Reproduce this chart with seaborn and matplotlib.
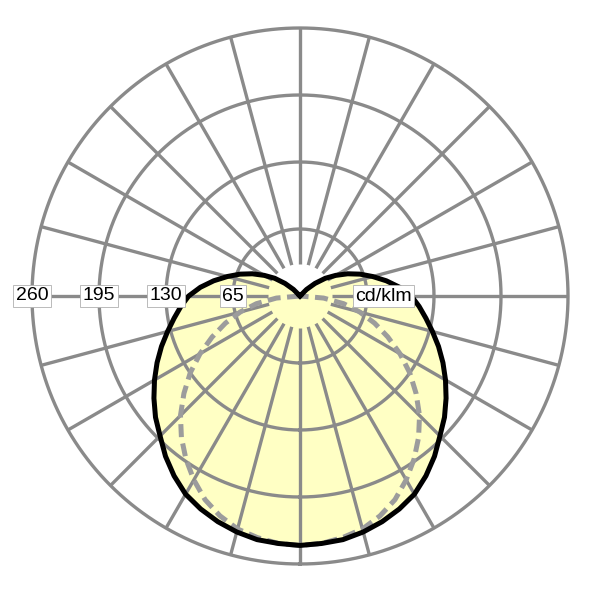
import numpy as np
import matplotlib
matplotlib.use("Agg")
import matplotlib.pyplot as plt
import seaborn as sns

# --- DATA (cd/klm) ---
# angle from nadir (deg), 0..180 in 5 deg steps, symmetric
angles_c0 = [0, 5, 10, 15, 20, 25, 30, 35, 40, 45, 50, 55, 60, 65, 70, 75, 80, 85, 90,
             95, 100, 105, 110, 115, 120, 125, 130, 135, 140, 145, 150, 155, 160, 165,
             170, 175, 180]
intensity_c0 = [242, 241, 240, 237, 233, 228, 222, 213, 203, 192, 183, 173, 163, 153,
                143, 133, 124, 116, 108, 97, 85, 73, 62, 51, 40, 30, 19, 9, 0, 0, 0,
                0, 0, 0, 0, 0, 0]

angles_c90 = [0, 5, 10, 15, 20, 25, 30, 35, 40, 45, 50, 55, 60, 65, 70, 75, 80, 85, 90]
intensity_c90 = [242, 241, 238, 234, 227, 218, 206, 193, 179, 164, 147, 130, 112, 94,
                 77, 60, 43, 23, 0]

ring_values = [65, 130, 195, 260]
ring_labels = ["65", "130", "195", "260"]
unit_label = "cd/klm"

GRID = "#8a8a8a"
FILL = "#ffffc4"
RMAX = 266  # a bit of room so the outer ring isn't clipped

# mirror the half-planes to get the full curves
th0 = np.deg2rad(np.concatenate([-np.array(angles_c0[::-1]), np.array(angles_c0[1:])]))
r0 = np.concatenate([intensity_c0[::-1], intensity_c0[1:]])
th90 = np.deg2rad(np.concatenate([-np.array(angles_c90[::-1]), np.array(angles_c90[1:])]))
r90 = np.concatenate([intensity_c90[::-1], intensity_c90[1:]])

fig = plt.figure(figsize=(5.9, 5.9), dpi=100)
rad_px = 268 * RMAX / 260
ax = fig.add_axes([(300 - rad_px) / 590, (294 - rad_px) / 590,
                   2 * rad_px / 590, 2 * rad_px / 590], projection="polar")
ax.set_theta_zero_location("S")
ax.set_ylim(0, RMAX)
ax.grid(False)
ax.set_xticks([])
ax.set_yticks([])
ax.spines["polar"].set_visible(False)

# light fill under the C0-C180 curve
ax.fill(th0, r0, color=FILL, zorder=1, lw=0)

# grid: rings and spokes
circ = np.linspace(0, 2 * np.pi, 721)
for rv in ring_values:
    ax.plot(circ, np.full_like(circ, rv), color=GRID, lw=2.4, zorder=2)
for a in range(0, 360, 15):
    ax.plot([np.deg2rad(a)] * 2, [31, 260], color=GRID, lw=2.4, zorder=2,
            solid_capstyle="butt")

# curves
sns.lineplot(x=th90, y=r90, ax=ax, sort=False, estimator=None, color="#9c9c9c",
             lw=3.6, linestyle=(0, (2.6, 1.3)), zorder=3)
sns.lineplot(x=th0, y=r0, ax=ax, sort=False, estimator=None, color="black",
             lw=3.6, zorder=4)
ax.set_xlabel("")
ax.set_ylabel("")

# labels
box = dict(boxstyle="square,pad=0.12", fc="white", ec="#b0b0b0", lw=0.6)
for rv, lab in zip(ring_values, ring_labels):
    ax.text(np.deg2rad(270), rv, lab, ha="center", va="center", fontsize=14,
            family="Liberation Sans", bbox=box, zorder=6)
ax.text(np.deg2rad(90), 81, unit_label, ha="center", va="center", fontsize=14,
        family="Liberation Sans", bbox=box, zorder=6)

fig.savefig("out.png", dpi=100, facecolor="white")
